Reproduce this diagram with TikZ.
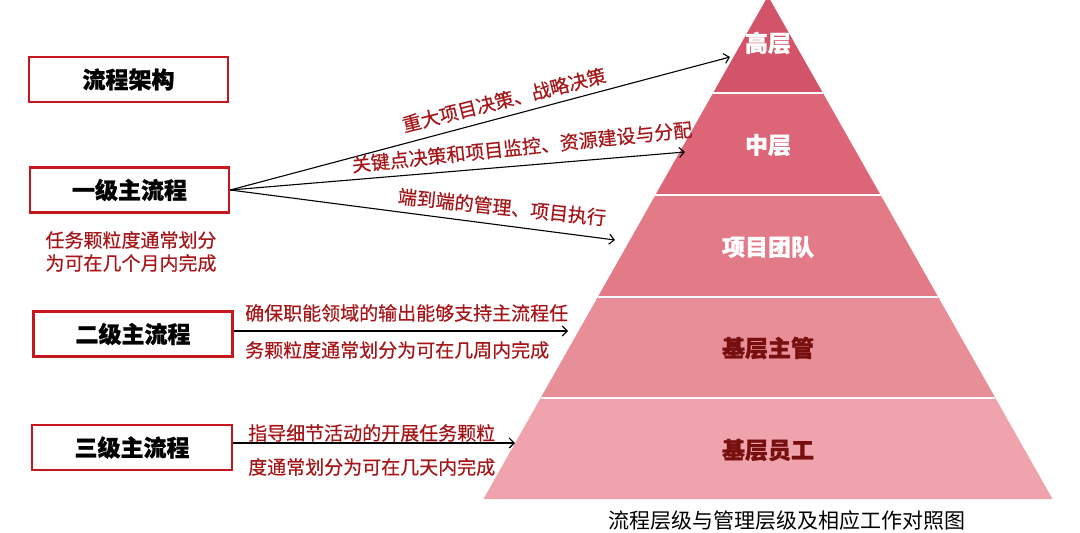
\documentclass[tikz,border=0pt]{standalone}
\usepackage{fontspec}
\setmainfont{Noto Sans CJK SC}[BoldFeatures={FakeBold=1}]
\newfontfamily\notefont{Noto Sans CJK SC}[FakeBold=0.4]
\usetikzlibrary{arrows.meta}
\definecolor{boxred}{RGB}{200,22,30}
\definecolor{notered}{RGB}{165,22,25}
\definecolor{lvldark}{RGB}{120,15,15}
\definecolor{pA}{RGB}{211,84,104}
\definecolor{pB}{RGB}{220,101,119}
\definecolor{pC}{RGB}{226,122,136}
\definecolor{pD}{RGB}{232,142,152}
\definecolor{pE}{RGB}{239,163,172}
\begin{document}
\begin{tikzpicture}[x=1pt,y=-1pt,
  procbox/.style={draw=boxred,line width=2.4pt,fill=white,minimum width=199pt,minimum height=45pt,inner sep=0pt,font=\fontsize{23}{23}\selectfont\bfseries},
  lvl/.style={font=\fontsize{23}{23}\selectfont\bfseries,inner sep=0pt},
  note/.style={text=notered,font=\notefont\fontsize{19}{19}\selectfont,inner sep=0pt},
  arr/.style={line width=1.1pt,-{Straight Barb[length=5pt,width=10pt]}}
]
\useasboundingbox (0,0) rectangle (1080,533);
\begin{scope}
\clip (0,0) rectangle (1080,533);
% pyramid bands
\fill[pE] (540.6,398) -- (995.4,398) -- (1052.5,499) -- (483.5,499) -- cycle;
\fill[pD] (597.8,297) -- (938.2,297) -- (995.4,398) -- (540.6,398) -- cycle;
\fill[pC] (655.4,195) -- (880.6,195) -- (938.2,297) -- (597.8,297) -- cycle;
\fill[pB] (713.1,93) -- (822.9,93) -- (880.6,195) -- (655.4,195) -- cycle;
\fill[pA] (768,-4) -- (822.9,93) -- (713.1,93) -- cycle;
\draw[white,line width=2.4pt] (713.1,93) -- (822.9,93)
  (655.4,195) -- (880.6,195) (597.8,297) -- (938.2,297) (540.6,398) -- (995.4,398);
\end{scope}
% pyramid labels
\node[lvl,text=white] (gao) at (768,43) {高层};
\node[lvl,text=white] (zhong) at (768,145) {中层};
\node[lvl,text=white] (xm) at (768,247) {项目团队};
\node[lvl,text=lvldark] (zg) at (768,348) {基层主管};
\node[lvl,text=lvldark] (yg) at (768,450) {基层员工};
% left boxes
\node[procbox] (arch) at (128.5,79.5) {流程架构};
\node[procbox] (b1) at (129.5,190) {一级主流程};
\node[procbox] (b2) at (133,334) {二级主流程};
\node[procbox,minimum width=200pt] (b3) at (132,447.5) {三级主流程};
% notes under level 1
\node[note] (n1a) at (131,240) {任务颗粒度通常划分};
\node[note] (n1b) at (131,263) {为可在几个月内完成};
% arrow targets
\coordinate (tA) at (730,57);
\coordinate (tB) at (685,152);
\coordinate (tC) at (615,240);
\coordinate (t2) at (568,331);
\coordinate (t3) at (515,443);
\draw[arr] (b1.east) -- (tA);
\draw[arr] (b1.east) -- (tB);
\draw[arr] (b1.east) -- (tC);
\draw[arr] ([yshift=3pt]b2.east) -- (t2);
\draw[arr] ([yshift=4.5pt]b3.east) -- (t3);
% rotated labels
\node[note,rotate=14] (lA) at (504,100) {重大项目决策、战略决策};
\node[note,rotate=6] (lB) at (522,147) {关键点决策和项目监控、资源建设与分配};
\node[note,rotate=-6] (lC) at (502,207) {端到端的管理、项目执行};
% level 2 / 3 notes
\node[note,anchor=west] (n2a) at (245,313) {确保职能领域的输出能够支持主流程任};
\node[note,anchor=west] (n2b) at (245,350) {务颗粒度通常划分为可在几周内完成};
\node[note,anchor=west] (n3a) at (248,433) {指导细节活动的开展任务颗粒};
\node[note,anchor=west] (n3b) at (248,467) {度通常划分为可在几天内完成};
% caption
\node[font=\fontsize{21}{21}\selectfont,inner sep=0pt] (cap) at (787,521) {流程层级与管理层级及相应工作对照图};
\end{tikzpicture}
\end{document}
